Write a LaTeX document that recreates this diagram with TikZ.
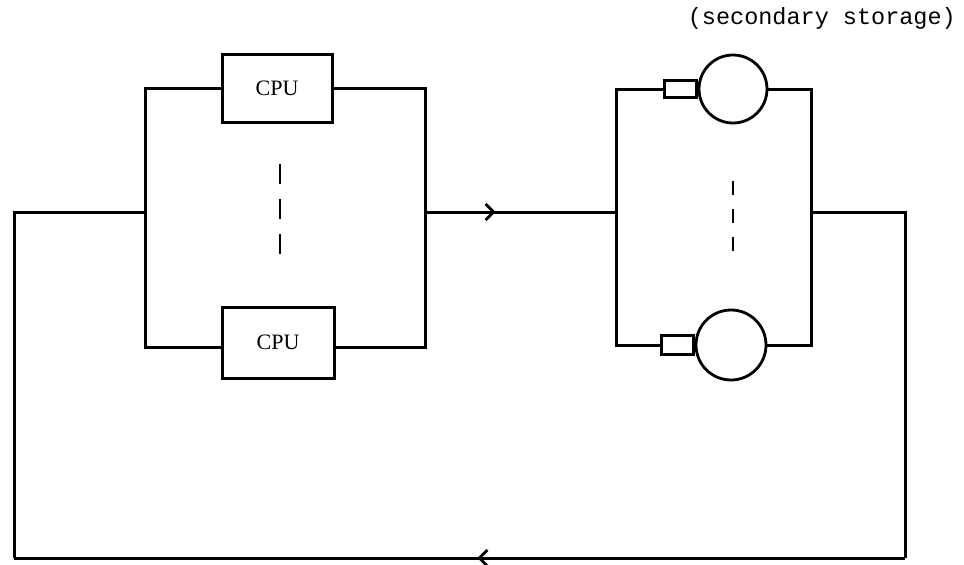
\documentclass[tikz,border=0pt]{standalone}
\usepackage{fontspec}
\setmainfont{Liberation Serif}
\newfontfamily\typew{Liberation Mono}
\usetikzlibrary{arrows.meta,decorations.markings}
\begin{document}
\begin{tikzpicture}[x=1pt,y=-1pt,
  wire/.style={line width=3pt,line join=miter},
  cpubox/.style={draw,line width=3pt,rectangle,minimum width=110pt,minimum height=68pt,inner sep=0pt,font=\fontsize{22}{24}\selectfont},
  diskc/.style={draw,line width=2.8pt,circle,inner sep=0pt},
  port/.style={draw,line width=2.8pt,rectangle,inner sep=0pt,minimum width=32pt},
  midarrow/.style={postaction={decorate},decoration={markings,mark=at position #1 with {\arrow[line width=2.8pt]{Straight Barb[length=8pt,width=16pt]}}}},
  dots/.style={line width=2.8pt,dash pattern=on 20pt off 15pt}
]
\useasboundingbox (0,0) rectangle (964,565);
% CPUs
\node[cpubox] (cpu1) at (277,88) {CPU};
\node[cpubox,minimum width=112pt,minimum height=71pt] (cpu2) at (278,342.5) {CPU};
% disks
\node[diskc,minimum size=68pt] (disk1) at (733,89) {};
\node[diskc,minimum size=70pt] (disk2) at (731,345) {};
\node[port,minimum height=17pt,anchor=east] (port1) at (disk1.west) {};
\node[port,minimum height=19pt,anchor=east] (port2) at (disk2.west) {};
% junction coordinates
\coordinate (lt) at (145,88);
\coordinate (lb) at (145,347);
\coordinate (lj) at (145,212);
\coordinate (rt) at (425,88);
\coordinate (rb) at (425,347);
\coordinate (rj) at (425,212);
\coordinate (dlt) at (616,89);
\coordinate (dlb) at (616,345);
\coordinate (dlj) at (616,212);
\coordinate (drt) at (811,89);
\coordinate (drb) at (811,345);
\coordinate (drj) at (811,212);
\coordinate (o1) at (905,212);
\coordinate (o2) at (905,558);
\coordinate (o3) at (14,558);
\coordinate (o4) at (14,212);
% CPU bank
\draw[wire] (lt -| cpu1.west) -- (lt) -- (lb) -- (lb -| cpu2.west);
\draw[wire] (rt -| cpu1.east) -- (rt) -- (rb) -- (rb -| cpu2.east);
% disk bank
\draw[wire] (port1.west) -- (dlt) -- (dlb) -- (port2.west);
\draw[wire] (disk1.east) -- (drt) -- (drb) -- (disk2.east);
% forward connection
\draw[wire,midarrow=0.37] (rj) -- (dlj);
% feedback loop
\draw[wire] (drj) -- (o1) -- (o2);
\draw[wire,midarrow=0.48] (o2) -- (o3);
\draw[wire] (o3) -- (o4) -- (lj);
% dashed continuation marks
\draw[dots] (280,164) -- (280,256);
\draw[dots,dash pattern=on 14pt off 14pt] (733,181) -- (733,251);
% label
\node[anchor=east,inner sep=0pt,font=\typew\fontsize{23.5}{25}\selectfont] (lbl) at (956,18) {(secondary storage)};
\end{tikzpicture}
\end{document}
